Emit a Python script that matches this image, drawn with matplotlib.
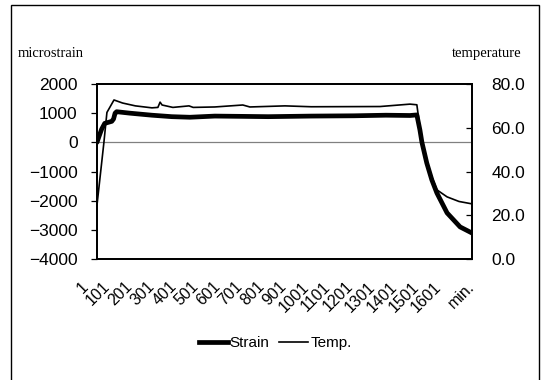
import matplotlib
matplotlib.use("Agg")
import matplotlib.pyplot as plt
import matplotlib.transforms as mtransforms
from matplotlib.patches import Rectangle
from matplotlib.lines import Line2D

# readings (minute index, value) taken off the chart
strain_min = [1, 10, 22, 36, 68, 76, 83, 90, 150, 250, 340, 422, 535, 662, 777,
              972, 1166, 1311, 1420, 1451, 1465, 1474, 1496, 1519, 1542, 1588,
              1647, 1701]
strain_val = [0, 200, 450, 650, 720, 800, 1000, 1050, 1000, 930, 880, 860, 900,
              890, 880, 900, 910, 930, 920, 940, 420, 0, -710, -1290, -1740,
              -2420, -2900, -3110]

temp_min = [1, 32, 46, 78, 117, 175, 250, 277, 287, 296, 345, 418, 437, 535,
            662, 694, 853, 972, 1284, 1420, 1451, 1465, 1474, 1496, 1519,
            1542, 1588, 1642, 1701]
temp_val = [24.7, 53.0, 67.0, 72.7, 71.3, 70.0, 69.1, 69.3, 71.7, 70.4, 69.3,
            70.0, 69.3, 69.5, 70.4, 69.5, 70.0, 69.6, 69.7, 70.8, 70.5, 60.0,
            53.3, 44.7, 37.5, 31.6, 28.4, 26.3, 25.2]

xtick_pos = list(range(1, 1602, 100))
xtick_labels = [str(v) for v in xtick_pos]
strain_ticks = [-4000, -3000, -2000, -1000, 0, 1000, 2000]
temp_ticks = [0, 20, 40, 60, 80]

W, H = 541, 380
fig = plt.figure(figsize=(W / 100, H / 100), dpi=100)
sans = "Liberation Sans"
serif = "Liberation Serif"

# outer chart border (open at the bottom, as cropped in the original)
fig.patches.append(Rectangle((11 / W, -0.02), 528 / W, 1 - 5 / H + 0.02,
                             transform=fig.transFigure, fill=False,
                             edgecolor="black", linewidth=1.0))

ax = fig.add_axes([97 / W, 1 - 259 / H, 375 / W, 175 / H])
ax2 = ax.twinx()

ax.axhline(0, color="#808080", linewidth=0.9, zorder=1)
ax.plot(strain_min, strain_val, color="black", linewidth=3.4,
        solid_capstyle="round", zorder=3)
ax2.plot(temp_min, temp_val, color="black", linewidth=1.2, zorder=3)

ax.set_xlim(1, 1701)
ax.set_ylim(-4000, 2000)
ax2.set_ylim(0, 80)

ax.set_yticks(strain_ticks)
ax.set_yticklabels([f"{v:d}".replace("-", "\u2212") for v in strain_ticks],
                   fontfamily=sans, fontsize=12.5)
ax.tick_params(axis="y", direction="out", length=4, width=0.9, pad=10)
ax2.set_yticks(temp_ticks)
ax2.set_yticklabels([f"{v:.1f}" for v in temp_ticks], fontfamily=sans,
                    fontsize=12.5)
ax2.tick_params(axis="y", direction="in", length=4, width=0.9, pad=14)

# category labels, rotated 45 deg like Excel
ax.set_xticks([])
offset = mtransforms.ScaledTranslation(-6 / 100, -20 / 100, fig.dpi_scale_trans)
trans = mtransforms.blended_transform_factory(ax.transData, ax.transAxes) + offset
for pos, lab in zip(xtick_pos, xtick_labels):
    ax.text(pos, 0, lab, transform=trans, rotation=45, ha="right", va="top",
            fontfamily=sans, fontsize=11.5)
# unit label sits past the last category
min_off = mtransforms.ScaledTranslation(5 / 100, -20 / 100, fig.dpi_scale_trans)
ax.text(1, 0, "min.", transform=ax.transAxes + min_off, rotation=45,
        ha="right", va="top", fontfamily=sans, fontsize=11.5)

for a in (ax, ax2):
    for sp in a.spines.values():
        sp.set_linewidth(1.3)
        sp.set_color("black")

fig.text(18 / W, 1 - 57 / H, "microstrain", fontfamily=serif, fontsize=10.5,
         ha="left", va="baseline")
fig.text(522 / W, 1 - 57 / H, "temperature", fontfamily=serif, fontsize=10.5,
         ha="right", va="baseline")

handles = [Line2D([], [], color="black", linewidth=3.4),
           Line2D([], [], color="black", linewidth=1.2)]
fig.legend(handles, ["Strain", "Temp."], loc="center",
           bbox_to_anchor=(275 / W, 1 - 343 / H), ncol=2, frameon=False,
           prop={"family": sans, "size": 11}, handlelength=1.9,
           handletextpad=0.15, columnspacing=0.6)

fig.savefig("out.png", dpi=100)
